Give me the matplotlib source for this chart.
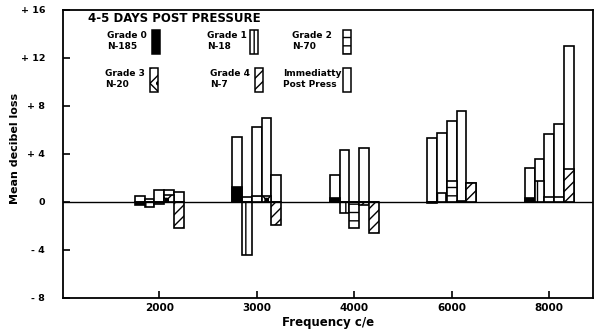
import matplotlib
matplotlib.use("Agg")
import matplotlib.pyplot as plt
import numpy as np

plt.rcParams['hatch.linewidth'] = 1.0

freqs = ["2000", "3000", "4000", "6000", "8000"]

# Mean decibel loss 4-5 days post pressure, by grade
grade0 = [-0.3, 1.2, 0.3, -0.1, 0.3]
grade1 = [-0.4, -4.4, -0.9, 0.7, 1.7]
grade2 = [-0.2, 0.5, -2.2, 1.7, 0.4]
grade3 = [0.6, 0.5, -0.3, 0.1, 0.4]
grade4 = [-2.2, -1.9, -2.6, 1.6, 2.7]

# Immediately post pressure (outline bars behind each grade bar)
imm0 = [0.5, 5.4, 2.2, 5.3, 2.8]
imm1 = [0.2, 0.4, 4.3, 5.7, 3.6]
imm2 = [1.0, 6.2, 0.0, 6.7, 5.65]
imm3 = [1.0, 7.0, 4.5, 7.6, 6.5]
imm4 = [0.8, 2.2, 0.0, 1.6, 13.0]

grade_labels = ["Grade 0\nN-185", "Grade 1\nN-18", "Grade 2\nN-70",
                "Grade 3\nN-20", "Grade 4\nN-7", "Immediatty\nPost Press"]

yticks = [-8, -4, 0, 4, 8, 12, 16]
ytick_labels = ["- 8", "- 4", "0", "+ 4", "+ 8", "+ 12", "+ 16"]

grades = [grade0, grade1, grade2, grade3, grade4]
imms = [imm0, imm1, imm2, imm3, imm4]
styles = [dict(facecolor="black", hatch=None),
          dict(facecolor="white", hatch="||"),
          dict(facecolor="white", hatch="--"),
          dict(facecolor="white", hatch="x."),
          dict(facecolor="white", hatch="///"),
          dict(facecolor="white", hatch=None)]

fig = plt.figure(figsize=(5.96, 3.31), dpi=100)
ax = fig.add_axes([0.106, 0.0997, 0.889, 0.8713])

x = np.arange(len(freqs))
w = 0.1
lw = 1.2
for i in range(5):
    pos = x + (i - 2) * w
    ax.bar(pos, imms[i], width=w, facecolor="white", edgecolor="black",
           linewidth=lw, zorder=2)
    ax.bar(pos, grades[i], width=w, edgecolor="black", linewidth=lw,
           zorder=3, **styles[i])

ax.axhline(0, color="black", linewidth=1.0, zorder=4)

ax.set_xlim(-0.985, 4.45)
ax.set_ylim(-8, 16)
ax.set_xticks(x)
ax.set_xticklabels(freqs, fontsize=7.5, fontweight="bold")
ax.set_yticks(yticks)
ax.set_yticklabels(ytick_labels, fontsize=6.8, fontweight="bold")
ax.tick_params(direction="in", length=5, width=1.2)
ax.tick_params(axis="y", pad=13)
for s in ax.spines.values():
    s.set_linewidth(1.3)

ax.set_ylabel("Mean decibel loss", fontsize=8, fontweight="bold")
ax.yaxis.set_label_coords(-0.081, 0.52)
ax.set_xlabel("Frequency c/e", fontsize=8.5, fontweight="bold", labelpad=2)

# Legend drawn in figure pixel coordinates
def px(xp, yp):
    return xp / 596, 1 - yp / 331

fig.text(*px(88, 18), "4-5 DAYS POST PRESSURE", fontsize=8.5, fontweight="bold",
         va="center", ha="left")
text_pos = [(107, 41), (207, 41), (292, 41), (105, 79), (210, 79), (283, 79)]
sw_pos = [(152, 30), (250, 30), (343, 30), (150, 68), (255, 68), (343, 68)]
for lab, (tx, ty), (sx, sy), st in zip(grade_labels, text_pos, sw_pos, styles):
    fig.text(*px(tx, ty), lab, fontsize=6.5, fontweight="bold", va="center",
             ha="left", linespacing=1.3)
    x0, y0 = px(sx, sy + 24)
    r = plt.Rectangle((x0, y0), 8 / 596, 24 / 331, transform=fig.transFigure,
                      edgecolor="black", linewidth=1.1, zorder=5, **st)
    fig.add_artist(r)

fig.savefig("out.png", dpi=100)
